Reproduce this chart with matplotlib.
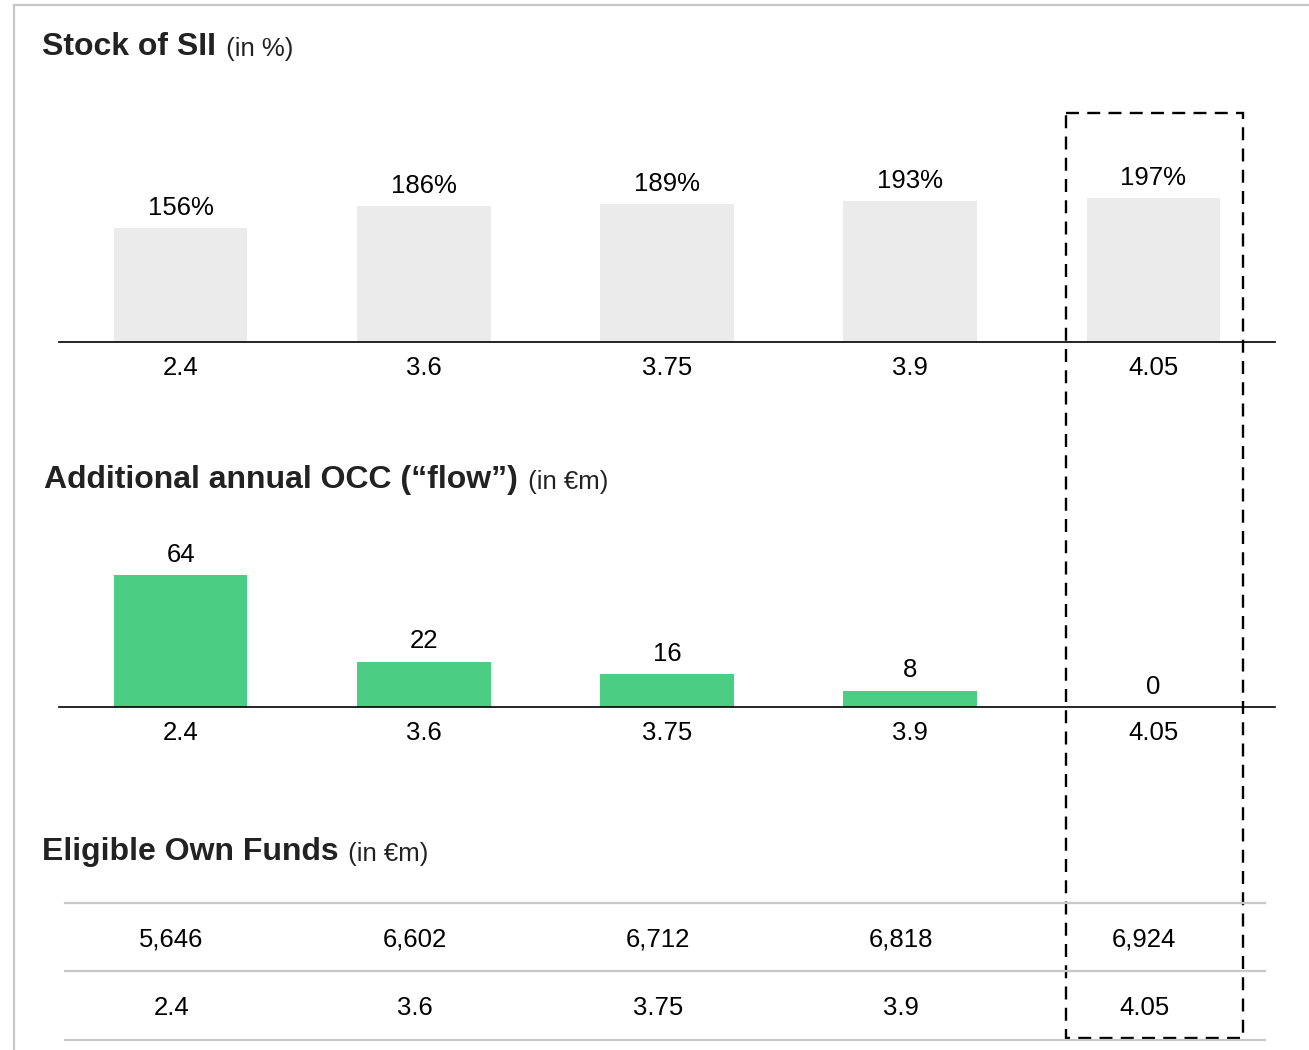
import matplotlib
matplotlib.use("Agg")
import matplotlib.pyplot as plt
from matplotlib.patches import Rectangle

plt.rcParams['font.family'] = ['Liberation Sans', 'DejaVu Sans']

# data
ratios = ['2.4', '3.6', '3.75', '3.9', '4.05']
sii_stock = [156, 186, 189, 193, 197]
occ_flow = [64, 22, 16, 8, 0]
own_funds = ['5,646', '6,602', '6,712', '6,818', '6,924']

W, H = 1309, 1050
fig = plt.figure(figsize=(W / 100, H / 100), dpi=100)
FS = 18.5


def px_axes(left, top, width, height):
    # axes placed by pixel box (top-left origin)
    return fig.add_axes([left / W, (H - top - height) / H, width / W, height / H])


def bar_panel(ax, values, color, ymax, fmt):
    x = range(len(values))
    ax.bar(x, values, width=0.55, color=color, zorder=2)
    ax.set_xlim(-0.5, 4.5)
    ax.set_ylim(0, ymax)
    for s in ['top', 'left', 'right']:
        ax.spines[s].set_visible(False)
    ax.spines['bottom'].set_linewidth(1.2)
    ax.spines['bottom'].set_color('black')
    ax.set_xticks([])
    ax.set_yticks([])
    ax.patch.set_alpha(0)
    for i, v in enumerate(values):
        ax.annotate(fmt.format(v), (i, v), xytext=(0, 14.5), textcoords='offset points',
                    ha='center', va='center', fontsize=FS, annotation_clip=False)
        ax.annotate(ratios[i], (i, 0), xytext=(0, -19), textcoords='offset points',
                    ha='center', va='center', fontsize=FS, annotation_clip=False)


# Stock of SII
ax1 = px_axes(59, 342 - 183, 1216, 183)
bar_panel(ax1, sii_stock, '#ebebeb', 250, '{}%')

# Additional annual OCC
ax2 = px_axes(59, 707 - 165, 1216, 165)
bar_panel(ax2, occ_flow, '#4bcd83', 80, '{}')

# Eligible Own Funds table
ax3 = px_axes(50, 903, 1216, 137)
ax3.set_xlim(-0.5, 4.5)
ax3.set_ylim(2, 0)
ax3.axis('off')
for i in range(len(own_funds)):
    ax3.text(i, 0.54, own_funds[i], ha='center', va='center', fontsize=FS)
    ax3.text(i, 1.54, ratios[i], ha='center', va='center', fontsize=FS)

# overlay in pixel coords
ax0 = fig.add_axes([0, 0, 1, 1])
ax0.set_xlim(0, W)
ax0.set_ylim(H, 0)
ax0.axis('off')

grey = '#c8c8c8'
ax0.plot([14, 14], [5, H], color=grey, lw=1.6)
ax0.plot([14, W], [5, 5], color=grey, lw=1.6)
for y in [903, 971, 1040]:
    ax0.plot([65, 1265], [y, y], color=grey, lw=1.6)

ax0.add_patch(Rectangle((1066, 113), 1243 - 1066, 1038 - 113, fill=False,
                        edgecolor='black', lw=1.7, linestyle=(0, (5.5, 3.5))))


def title(x, y, bold, light):
    t = ax0.text(x, y, bold, fontsize=23, fontweight='bold', color='#222222',
                 ha='left', va='center')
    ax0.annotate(light, xy=(1, 0), xycoords=t, xytext=(2, 0.5), textcoords='offset points',
                 fontsize=18.5, color='#222222', ha='left', va='bottom')


title(42, 47, 'Stock of SII', ' (in %)')
title(44, 480, 'Additional annual OCC (\u201cflow\u201d)', ' (in \u20acm)')
title(42, 852, 'Eligible Own Funds', ' (in \u20acm)')

fig.savefig('out.png', dpi=100)
